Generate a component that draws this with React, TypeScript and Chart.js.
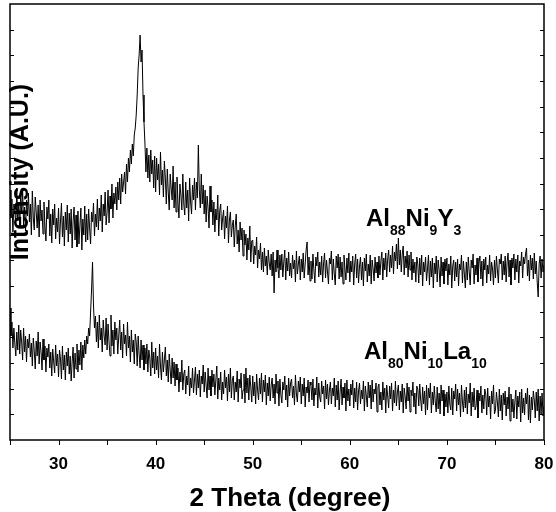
import { useEffect, useRef } from "react";
import { Chart, registerables } from "chart.js";

Chart.register(...registerables);

// 2θ sampling of both patterns (degrees)
const X_START = 25;
const X_STEP = 0.1;

// Intensity (a.u.) of Al88Ni9Y3, one value per 0.1°, 25.0° … 80.0° (one row = 1°)
const alNiY: number[] = [
  250, 222, 241, 208, 236, 229, 214, 252, 219, 238,
  212, 245, 226, 251, 215, 233, 209, 240, 224, 247,
  218, 236, 205, 249, 222, 210, 243, 228, 212, 235,
  203, 240, 219, 230, 206, 238, 214, 199, 233, 221,
  240, 204, 226, 197, 231, 215, 236, 201, 222, 208,
  232, 196, 219, 237, 203, 224, 194, 228, 210, 235,
  198, 227, 206, 231, 192, 219, 233, 200, 225, 193,
  229, 196, 214, 232, 190, 221, 205, 234, 198, 226,
  200, 231, 212, 196, 228, 218, 237, 204, 226, 213,
  241, 210, 232, 219, 245, 208, 236, 224, 248, 215,
  228, 250, 217, 244, 231, 256, 222, 247, 236, 253,
  230, 258, 240, 262, 236, 266, 248, 258, 268, 246,
  276, 258, 282, 268, 290, 276, 296, 284, 305, 312,
  325, 345, 372, 385, 405, 378, 390, 345, 318, 296,
  268, 292, 262, 285, 258, 290, 266, 280, 252, 284,
  248, 282, 260, 276, 245, 288, 255, 270, 243, 279,
  262, 236, 271, 248, 230, 266, 252, 240, 274, 232,
  258, 228, 263, 238, 222, 256, 245, 230, 266, 236,
  225, 258, 232, 250, 219, 262, 238, 226, 255, 240,
  262, 230, 258, 242, 295, 250, 232, 266, 236, 255,
  226, 250, 218, 244, 232, 212, 254, 228, 240, 215,
  238, 208, 231, 220, 245, 204, 229, 236, 210, 222,
  230, 201, 224, 212, 234, 197, 220, 228, 203, 215,
  220, 193, 214, 226, 196, 210, 188, 218, 200, 212,
  184, 210, 195, 206, 180, 202, 190, 214, 178, 199,
  200, 176, 194, 185, 203, 172, 190, 181, 197, 170,
  188, 168, 192, 174, 184, 165, 190, 177, 170, 186,
  164, 188, 147, 180, 168, 190, 172, 162, 185, 170,
  186, 163, 178, 190, 160, 182, 169, 188, 164, 177,
  162, 185, 171, 180, 158, 189, 166, 176, 184, 160,
  181, 168, 187, 162, 176, 190, 198, 165, 183, 159,
  179, 161, 186, 170, 157, 183, 174, 188, 163, 178,
  165, 184, 158, 177, 187, 162, 180, 168, 156, 182,
  176, 189, 160, 181, 166, 155, 184, 172, 186, 161,
  183, 163, 178, 156, 185, 171, 160, 182, 167, 187,
  158, 179, 168, 184, 155, 176, 186, 162, 181, 157,
  174, 183, 160, 178, 154, 182, 169, 186, 158, 176,
  164, 185, 156, 180, 171, 159, 183, 167, 178, 162,
  184, 165, 179, 188, 160, 182, 170, 187, 163, 181,
  190, 168, 185, 172, 194, 166, 188, 179, 196, 171,
  202, 175, 190, 168, 186, 194, 165, 184, 172, 189,
  163, 185, 170, 188, 160, 181, 167, 178, 158, 183,
  176, 157, 182, 165, 185, 154, 178, 168, 183, 159,
  171, 185, 155, 179, 163, 182, 152, 177, 166, 184,
  158, 180, 170, 153, 183, 164, 178, 156, 181, 169,
  182, 155, 176, 165, 184, 152, 174, 180, 159, 178,
  163, 181, 154, 176, 170, 185, 157, 179, 166, 152,
  178, 160, 183, 168, 155, 180, 172, 186, 156, 175,
  165, 182, 158, 177, 184, 161, 179, 154, 181, 170,
  183, 157, 175, 166, 185, 159, 178, 171, 155, 180,
  162, 184, 170, 157, 181, 176, 186, 160, 179, 165,
  184, 158, 178, 187, 163, 180, 155, 182, 172, 186,
  160, 181, 168, 185, 157, 179, 174, 188, 162, 183,
  176, 186, 192, 164, 180, 159, 185, 170, 182, 161,
  187, 166, 179, 158, 143, 176, 184, 162, 181, 168,
  175,
];

// Intensity (a.u.) of Al80Ni10La10, one value per 0.1°, 25.0° … 80.0° (one row = 1°)
const alNiLa: number[] = [
  132, 104, 118, 92, 112, 96, 84, 108, 90, 115,
  86, 110, 98, 80, 112, 88, 104, 78, 101, 92,
  106, 83, 97, 74, 102, 89, 71, 99, 84, 108,
  76, 98, 88, 70, 101, 80, 94, 68, 92, 83,
  96, 72, 88, 64, 91, 78, 67, 95, 74, 86,
  63, 90, 81, 61, 94, 70, 85, 60, 88, 74,
  92, 66, 84, 59, 78, 93, 62, 87, 71, 96,
  68, 90, 75, 98, 70, 95, 82, 100, 86, 104,
  96, 112, 104, 128, 150, 178, 135, 112, 124, 98,
  118, 92, 125, 100, 112, 88, 120, 104, 95, 122,
  90, 116, 98, 84, 125, 94, 110, 86, 118, 100,
  112, 86, 104, 120, 90, 108, 82, 116, 96, 105,
  84, 118, 92, 104, 78, 110, 88, 100, 76, 106,
  98, 74, 104, 86, 72, 100, 80, 95, 70, 92,
  76, 96, 68, 90, 82, 64, 98, 72, 88, 66,
  92, 70, 84, 62, 96, 74, 60, 88, 68, 80,
  93, 64, 80, 58, 86, 70, 56, 82, 62, 78,
  54, 76, 60, 72, 48, 68, 58, 80, 50, 66,
  70, 46, 64, 55, 74, 44, 62, 52, 72, 47,
  60, 73, 45, 66, 52, 70, 43, 64, 56, 75,
  48, 68, 55, 42, 72, 50, 64, 44, 70, 53,
  66, 45, 60, 74, 41, 62, 50, 68, 40, 58,
  46, 70, 52, 63, 39, 66, 48, 72, 42, 60,
  64, 40, 58, 48, 69, 38, 61, 52, 67, 41,
  50, 66, 37, 72, 47, 62, 40, 65, 53, 38,
  64, 44, 58, 36, 66, 50, 40, 62, 46, 67,
  38, 60, 48, 65, 35, 57, 44, 63, 39, 55,
  62, 42, 56, 36, 66, 47, 59, 34, 61, 45,
  37, 58, 50, 64, 40, 55, 33, 62, 44, 57,
  61, 42, 54, 35, 65, 46, 38, 59, 48, 63,
  36, 56, 44, 62, 33, 53, 47, 60, 38, 58,
  55, 40, 61, 34, 52, 45, 63, 32, 57, 43,
  38, 59, 46, 54, 31, 60, 41, 56, 35, 50,
  58, 36, 52, 44, 62, 33, 55, 40, 59, 30,
  48, 61, 35, 53, 42, 57, 29, 60, 39, 51,
  34, 56, 45, 60, 32, 52, 38, 58, 30, 49,
  57, 36, 50, 41, 59, 29, 54, 44, 33, 58,
  42, 55, 31, 60, 38, 51, 46, 57, 28, 53,
  56, 35, 48, 30, 58, 40, 52, 27, 55, 44,
  32, 54, 41, 57, 29, 50, 37, 59, 34, 48,
  55, 30, 49, 38, 56, 27, 52, 43, 31, 57,
  39, 53, 28, 50, 44, 58, 33, 47, 26, 54,
  51, 34, 56, 40, 29, 53, 36, 49, 25, 55,
  30, 52, 42, 57, 27, 48, 35, 54, 38, 28,
  53, 31, 47, 26, 55, 39, 50, 24, 46, 33,
  48, 27, 54, 36, 30, 52, 25, 49, 41, 56,
  29, 51, 35, 47, 23, 55, 38, 28, 50, 32,
  53, 26, 46, 37, 57, 24, 48, 33, 52, 30,
  34, 50, 22, 47, 39, 54, 27, 45, 31, 51,
  46, 25, 52, 33, 44, 21, 49, 36, 55, 26,
  30, 48, 38, 23, 51, 29, 45, 20, 47, 35,
  49, 24, 43, 31, 53, 19, 46, 28, 41, 22,
  38, 50, 21, 44, 33, 48, 18, 51, 27, 42,
  25, 47, 36, 52, 20, 45, 17, 43, 30, 49,
  40, 22, 48, 29, 51, 19, 44, 26, 47, 24,
  34,
];

const X_MIN = 25;
const X_MAX = 80;
const Y_MIN = 0;
const Y_MAX = 436;
const xTickValues = [25, 30, 35, 40, 45, 50, 55, 60, 65, 70, 75, 80];
const xTickLabels = ["30", "40", "50", "60", "70", "80"];
const Y_TICK_STEP = 25.65;
const X_TITLE = "2 Theta (degree)";
const Y_TITLE = "Intensity (A.U.)";

// Sample labels: [text, isSubscript]
const labelY: [string, boolean][] = [["Al", false], ["88", true], ["Ni", false], ["9", true], ["Y", false], ["3", true]];
const labelLa: [string, boolean][] = [["Al", false], ["80", true], ["Ni", false], ["10", true], ["La", false], ["10", true]];
const labelAnchors = [
  { parts: labelY, x: 61.67, y: 214 },
  { parts: labelLa, x: 61.46, y: 81 },
];

const FONT = '"Liberation Sans", Arial, Helvetica, sans-serif';

const toPoints = (arr: number[]) =>
  arr.map((v, i) => ({ x: +(X_START + i * X_STEP).toFixed(2), y: v }));

const decor = {
  id: "decor",
  afterDraw(chart: any) {
    const { ctx, chartArea: a, scales } = chart;
    const xs = scales.x;
    const ys = scales.y;
    ctx.save();
    ctx.strokeStyle = "#000";
    ctx.fillStyle = "#000";
    ctx.lineWidth = 1.5;
    ctx.strokeRect(a.left, a.top, a.right - a.left, a.bottom - a.top);

    ctx.lineWidth = 1;
    ctx.beginPath();
    for (const v of xTickValues) {
      const px = Math.round(xs.getPixelForValue(v)) + 0.5;
      ctx.moveTo(px, a.bottom);
      ctx.lineTo(px, a.bottom + 5);
    }
    for (let v = Y_MIN + Y_TICK_STEP; v < Y_MAX - 2; v += Y_TICK_STEP) {
      const py = Math.round(ys.getPixelForValue(v)) + 0.5;
      ctx.moveTo(a.left, py);
      ctx.lineTo(a.left + 4, py);
      ctx.moveTo(a.right, py);
      ctx.lineTo(a.right - 4, py);
    }
    ctx.stroke();

    ctx.font = `bold 17px ${FONT}`;
    ctx.textAlign = "center";
    ctx.textBaseline = "alphabetic";
    for (const l of xTickLabels) {
      ctx.fillText(l, xs.getPixelForValue(Number(l)), a.bottom + 29);
    }

    ctx.font = `bold 26px ${FONT}`;
    ctx.fillText(X_TITLE, (a.left + a.right) / 2 + 13, a.bottom + 66);

    ctx.save();
    ctx.translate(a.left + 18, a.top + 168);
    ctx.rotate(-Math.PI / 2);
    ctx.font = `bold 25px ${FONT}`;
    ctx.fillText(Y_TITLE, 0, 0);
    ctx.restore();

    ctx.textAlign = "left";
    for (const lab of labelAnchors) {
      let x = xs.getPixelForValue(lab.x);
      const y = ys.getPixelForValue(lab.y);
      for (const [t, sub] of lab.parts) {
        ctx.font = sub ? `bold 14px ${FONT}` : `bold 24px ${FONT}`;
        ctx.fillText(t, x, sub ? y + 9 : y);
        x += ctx.measureText(t).width;
      }
    }
    ctx.restore();
  },
};

export default function App() {
  const ref = useRef<HTMLCanvasElement | null>(null);
  useEffect(() => {
    if (!ref.current) return;
    const chart = new Chart(ref.current, {
      type: "line",
      data: {
        datasets: [
          {
            label: "Al88Ni9Y3",
            data: toPoints(alNiY),
            borderColor: "#000",
            borderWidth: 1,
            pointRadius: 0,
            tension: 0,
          },
          {
            label: "Al80Ni10La10",
            data: toPoints(alNiLa),
            borderColor: "#000",
            borderWidth: 1,
            pointRadius: 0,
            tension: 0,
          },
        ],
      },
      options: {
        responsive: false,
        animation: false,
        devicePixelRatio: 1,
        layout: { padding: { left: 10, right: 12, top: 4, bottom: 72 } },
        scales: {
          x: { type: "linear", min: X_MIN, max: X_MAX, display: false },
          y: { type: "linear", min: Y_MIN, max: Y_MAX, display: false },
        },
        plugins: {
          legend: { display: false },
          tooltip: { enabled: false },
        },
      },
      plugins: [decor],
    });
    return () => chart.destroy();
  }, []);
  return (
    <div style={{ position: "fixed", left: 0, top: 0, width: 556, height: 512, background: "#fff" }}>
      <canvas ref={ref} width={556} height={512} />
    </div>
  );
}
